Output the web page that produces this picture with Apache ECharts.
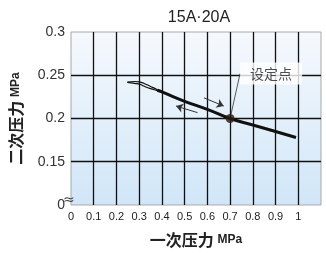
<!DOCTYPE html>
<html><head><meta charset="utf-8">
<script src="https://cdn.jsdelivr.net/npm/echarts@6/dist/echarts.min.js"></script>
<style>html,body{margin:0;padding:0;background:#fff}#c{width:326px;height:253px}</style>
</head><body><div id="c"></div>
<script>
var title = '15A·20A';
var xTicks = [0,0.1,0.2,0.3,0.4,0.5,0.6,0.7,0.8,0.9,1];
var yTickLabels = {'0.1':'0','0.15':'0.15','0.2':'0.2','0.25':'0.25','0.3':'0.3'};
// rising (upper) branch of the hysteresis hook
var upperBranch = [[0.248,0.2421],[0.28,0.2428],[0.30,0.2424],[0.32,0.2408],[0.35,0.237],[0.38,0.2333],[0.40,0.231]];
// falling (lower) branch
var lowerBranch = [[0.248,0.2418],[0.28,0.2407],[0.304,0.2395],[0.32,0.2375],[0.35,0.2345],[0.38,0.2323],[0.40,0.2307]];
// main characteristic
var mainCurve = [[0.38,0.2327],[0.40,0.2307],[0.5,0.2199],[0.6,0.2106],[0.7,0.2],[0.8,0.1925],[0.9,0.185],[0.99,0.178]];
var setPoint = [[0.7,0.2]];
var setPointLabel = '设定点';
var arrows = [
  [[0.585,0.2239],[0.672,0.2144]],
  [[0.5565,0.2068],[0.462,0.2144]]
];

var chart = echarts.init(document.getElementById('c'));
chart.setOption({
  animation:false,
  title:{text:title,left:194,textAlign:'center',top:5,textStyle:{fontSize:16,fontWeight:'normal',color:'#222',fontFamily:'Liberation Sans'}},
  grid:{left:67,right:5,top:32,bottom:45,show:true,borderColor:'#a8a8a8',borderWidth:1,
    backgroundColor:new echarts.graphic.LinearGradient(0,0,0,1,[{offset:0,color:'#f6f9fd'},{offset:1,color:'#d0e6f8'}])},
  xAxis:{type:'value',min:0,max:1.1,interval:0.1,
    name:'一次压力 {s|MPa}',nameLocation:'middle',nameGap:27,
    nameTextStyle:{fontSize:16,fontWeight:'bold',color:'#222',fontFamily:'Noto Sans CJK SC',rich:{s:{fontSize:12,fontWeight:'bold',color:'#222',fontFamily:'Liberation Sans'}}},
    axisLine:{show:false},axisTick:{show:false},
    axisLabel:{fontSize:11,color:'#222',margin:6,fontFamily:'Liberation Sans Narrow, Liberation Sans',
      formatter:function(v){var r=Math.round(v*10)/10; return xTicks.indexOf(r)>=0? String(r):'';}},
    splitLine:{show:true,showMinLine:false,showMaxLine:false,lineStyle:{color:'#111',width:1.3}}},
  yAxis:{type:'value',min:0.1,max:0.3,interval:0.05,
    name:'二次压力 {s|MPa}',nameLocation:'middle',nameGap:47,
    nameTextStyle:{fontSize:16,fontWeight:'bold',color:'#222',fontFamily:'Noto Sans CJK SC',rich:{s:{fontSize:12,fontWeight:'bold',color:'#222',fontFamily:'Liberation Sans'}}},
    axisLine:{show:false},axisTick:{show:false},
    axisLabel:{fontSize:14,color:'#333',margin:6,fontFamily:'Liberation Sans',
      formatter:function(v){var k=String(Math.round(v*100)/100); return yTickLabels[k]!==undefined?yTickLabels[k]:'';}},
    splitLine:{show:true,showMinLine:false,showMaxLine:false,lineStyle:{color:'#111',width:1.3}}},
  graphic:[{type:'text',left:63,top:193,z:10,style:{text:'≈',fontSize:14,fill:'#444',fontFamily:'DejaVu Sans'}}],
  series:[
    {type:'line',data:upperBranch,symbol:'none',smooth:true,lineStyle:{color:'#111',width:1.2},z:3},
    {type:'line',data:lowerBranch,symbol:'none',smooth:true,lineStyle:{color:'#111',width:1.2},z:3},
    {type:'line',data:mainCurve,symbol:'none',smooth:true,lineStyle:{color:'#111',width:3},z:3},
    {type:'lines',coordinateSystem:'cartesian2d',symbol:['none','arrow'],symbolSize:7,
      lineStyle:{color:'#333',width:1,opacity:1},
      data:arrows.map(function(a){return {coords:a};}),z:4},
    {type:'scatter',data:setPoint,symbolSize:9,itemStyle:{color:'#2a1a12'},z:5,
      label:{show:true,position:'inside',formatter:setPointLabel,fontSize:14,color:'#222',
        backgroundColor:'#fff',padding:[4,10],fontFamily:'Noto Sans CJK SC'},
      labelLayout:{dx:41,dy:-45},
      labelLine:{show:true,lineStyle:{color:'#333',width:0.8}}}
  ]
});
</script></body></html>
